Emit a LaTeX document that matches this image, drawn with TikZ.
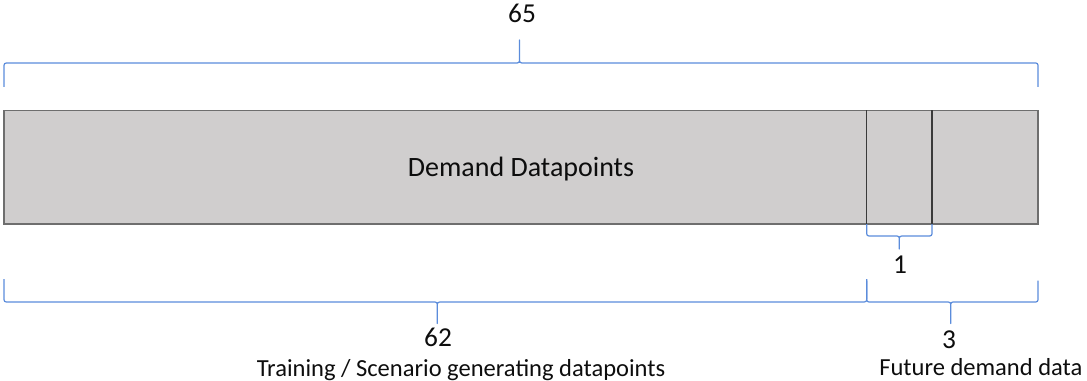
\documentclass[tikz,border=0pt]{standalone}
\usepackage{fontspec}
\setmainfont{Carlito}
\definecolor{bracecol}{HTML}{5B8CDB}
\definecolor{barfill}{HTML}{D0CECE}
\definecolor{barline}{HTML}{6E6E6E}
\definecolor{divline}{HTML}{3A3A3A}
\definecolor{txt}{HTML}{0D0D0D}
\newcommand\mybrace[7]{%
  \draw[bracestyle] (#1,#4) -- (#1,{#5+(#7)}) .. controls (#1,#5) .. ({#1+5},#5)
    -- ({#3-5},#5) .. controls (#3,#5) .. (#3,{#5-(#7)}) -- (#3,#6)
    -- (#3,{#5-(#7)}) .. controls (#3,#5) .. ({#3+5},#5)
    -- ({#2-5},#5) .. controls (#2,#5) .. (#2,{#5+(#7)}) -- (#2,#4);}
\begin{document}
\begin{tikzpicture}[x=0.75pt,y=-0.75pt,
  bracestyle/.style={draw=bracecol,line width=0.9pt,line join=round},
  lbl/.style={inner sep=0pt,text=txt,font=\fontsize{18.4}{22}\selectfont},
  numlbl/.style={inner sep=0pt,text=txt,font=\fontsize{20.5}{24}\selectfont},
  biglbl/.style={inner sep=0pt,text=txt,font=\fontsize{21}{25}\selectfont}]
\useasboundingbox (0,0) rectangle (1087,381);
% bar
\draw[fill=barfill,draw=barline,line width=1.3pt] (4,110.5) rectangle (1038,224);
\draw[divline,line width=1pt] (866.7,110.5) -- (866.7,224);
\draw[divline,line width=1pt] (932,110.5) -- (932,224);
\node[biglbl,anchor=base] (demand) at (521,176) {Demand Datapoints};
% braces
\mybrace{4}{1038}{519.5}{87}{63}{40}{5}
\mybrace{866.7}{932}{899.3}{224}{236}{249}{-5}
\mybrace{4}{866.7}{437.3}{279}{302}{323.5}{-5}
\mybrace{866.7}{1038}{950.7}{280.5}{302}{323.5}{-5}
% labels
\node[numlbl,anchor=base] (n65) at (522,22.7) {65};
\node[numlbl,anchor=base] (n1) at (900,273) {1};
\node[numlbl,anchor=base] (n62) at (438,346.7) {62};
\node[numlbl,anchor=base] (n3) at (949,348.3) {3};
\node[lbl,anchor=base west] (train) at (256.5,376) {Training / Scenario generating datapoints};
\node[lbl,anchor=base west] (future) at (879,375.5) {Future demand data};
\end{tikzpicture}
\end{document}
